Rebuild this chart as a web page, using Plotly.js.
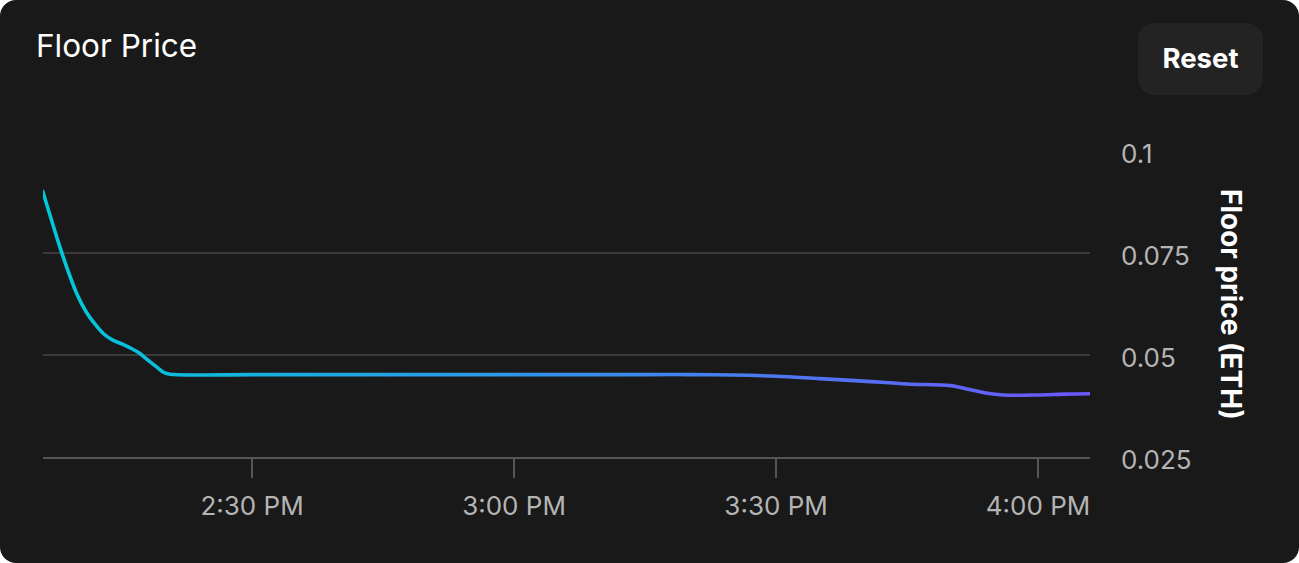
<!DOCTYPE html>
<html>
<head>
<meta charset="utf-8">
<script src="https://cdn.plot.ly/plotly-3.0.1.min.js"></script>
<style>
  html, body { margin: 0; padding: 0; background: #ffffff; }
  #card { position: relative; width: 1299px; height: 563px; background: #191919; border-radius: 16px; overflow: hidden; }
  #chart { position: absolute; left: 0; top: 0; width: 1299px; height: 563px; }
  #reset { position: absolute; left: 1138px; top: 23px; width: 125px; height: 72px; background: #232323; border-radius: 16px;
           color: #ffffff; font-family: Inter, "Noto Sans", sans-serif; font-weight: 700; font-size: 27.5px;
           display: flex; align-items: center; justify-content: center; padding-bottom: 2px; box-sizing: border-box; }
</style>
</head>
<body>
<div id="card">
  <div id="chart"></div>
  <div id="reset">Reset</div>
</div>
<script>
// Data
const day = '2024-01-01 ';
const times = ['14:06','14:08','14:09','14:10','14:11','14:12','14:13','14:14','14:15','14:16','14:17','14:18','14:19','14:20','14:21',
               '14:30','14:45','15:00','15:15','15:20','15:25','15:30','15:35','15:40','15:45','15:50',
               '15:52','15:54','15:56','16:00','16:03','16:06'];
const floorPrice = [0.0904,0.0765,0.0702,0.0647,0.0606,0.0576,0.0552,0.0537,0.0528,0.0518,0.0506,0.0489,0.0472,0.0456,0.0452,
                    0.0452,0.0452,0.0452,0.0452,0.0452,0.0451,0.0448,0.0442,0.0436,0.0429,0.0425,
                    0.0416,0.0407,0.0402,0.0402,0.0404,0.0405];
const yTickVals = [0.025, 0.05, 0.075, 0.1];
const yTickText = ['0.025', '0.05', '0.075', '0.1'];
const xRange = ['2024-01-01 14:06:04', '2024-01-01 16:05:57'];

const x = times.map(t => day + t);

const trace = {
  type: 'scatter', mode: 'lines', x: x, y: floorPrice,
  line: { color: '#00c8d8', width: 3.6, shape: 'spline', smoothing: 1.0 },
  hoverinfo: 'skip'
};

const layout = {
  width: 1299, height: 563,
  margin: { l: 43, r: 209, t: 151, b: 106 },
  paper_bgcolor: 'rgba(0,0,0,0)', plot_bgcolor: 'rgba(0,0,0,0)',
  font: { family: 'Inter, "Noto Sans", sans-serif', color: '#b4b4b4', size: 26 },
  showlegend: false,
  title: { text: 'Floor Price', xref: 'container', yref: 'container', x: 36/1299, xanchor: 'left',
           y: 1 - 46/563, yanchor: 'middle', font: { size: 31.5, color: '#ffffff', family: 'Inter, "Noto Sans", sans-serif' } },
  xaxis: {
    type: 'date', range: xRange, dtick: 30*60*1000, tick0: '2024-01-01 14:00:00',
    tickformat: '%-I:%M %p', showgrid: false, zeroline: false,
    showline: true, linecolor: '#555555', linewidth: 1.5,
    ticks: 'outside', ticklen: 19, tickcolor: '#555555', tickwidth: 1.5,
    ticklabelstandoff: 6,
    tickfont: { size: 26, color: '#b4b4b4' }
  },
  yaxis: {
    side: 'right', range: [0.025, 0.1], tickvals: yTickVals, ticktext: yTickText,
    showgrid: true, gridcolor: '#3a3a3a', gridwidth: 1.5, zeroline: false, showline: false,
    ticks: '', ticklabelstandoff: 30, ticklabelshift: 3,
    tickfont: { size: 26, color: '#b4b4b4' }
  },
  annotations: [{
    text: 'Floor price (ETH)', textangle: 90, xref: 'paper', yref: 'paper',
    x: (1231 - 43) / 1047, y: (457 - 304) / 306, xanchor: 'center', yanchor: 'middle', showarrow: false,
    font: { size: 28, color: '#ffffff', weight: 700, family: 'Inter, "Noto Sans", sans-serif' }
  }]
};

Plotly.newPlot('chart', [trace], layout, { displayModeBar: false, staticPlot: true }).then(function (gd) {
  const svg = gd.querySelector('svg.main-svg');
  const ns = 'http://www.w3.org/2000/svg';
  let defs = svg.querySelector('defs');
  if (!defs) { defs = document.createElementNS(ns, 'defs'); svg.insertBefore(defs, svg.firstChild); }
  const grad = document.createElementNS(ns, 'linearGradient');
  grad.setAttribute('id', 'floorGrad');
  grad.setAttribute('x1', '0'); grad.setAttribute('y1', '0');
  grad.setAttribute('x2', '1'); grad.setAttribute('y2', '0');
  [['0%', '#00c9d8'], ['100%', '#6c56fc']].forEach(function (s) {
    const st = document.createElementNS(ns, 'stop');
    st.setAttribute('offset', s[0]); st.setAttribute('stop-color', s[1]);
    grad.appendChild(st);
  });
  defs.appendChild(grad);
  gd.querySelectorAll('.scatterlayer .js-line').forEach(function (p) {
    p.style.stroke = 'url(#floorGrad)';
  });
});
</script>
</body>
</html>
